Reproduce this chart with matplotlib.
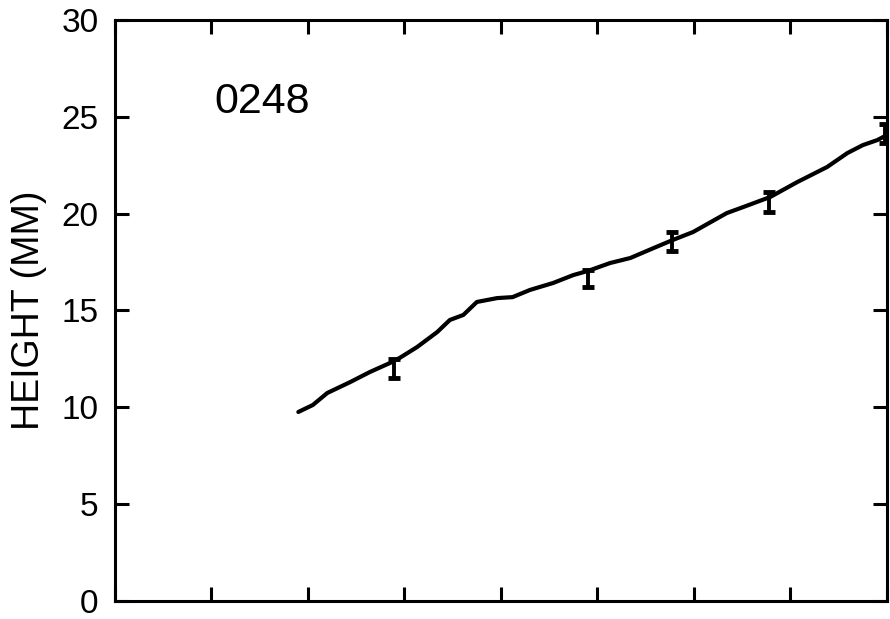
import matplotlib
matplotlib.use("Agg")
import matplotlib.pyplot as plt

# traced curve (x in tick units, height in mm)
curve_x = [1.90, 2.05, 2.20, 2.44, 2.64, 2.85, 2.95, 3.13, 3.34, 3.47, 3.61, 3.75,
           3.96, 4.12, 4.30, 4.54, 4.75, 4.90, 5.13, 5.34, 5.58, 5.78, 5.99, 6.34,
           6.51, 6.79, 7.07, 7.38, 7.59, 7.75, 7.90, 8.00]
curve_y = [9.76, 10.12, 10.74, 11.31, 11.82, 12.29, 12.55, 13.11, 13.89, 14.51, 14.77, 15.44,
           15.64, 15.69, 16.06, 16.42, 16.83, 17.04, 17.45, 17.71, 18.22, 18.64, 19.05, 20.03,
           20.34, 20.86, 21.63, 22.41, 23.13, 23.54, 23.80, 24.06]

# error bars
bar_x = [2.89, 4.90, 5.77, 6.78, 7.98]
bar_lo = [11.5, 16.2, 18.05, 20.1, 23.65]
bar_hi = [12.5, 17.1, 19.05, 21.1, 24.65]

yticks = [0, 5, 10, 15, 20, 25, 30]
xticks = [0, 1, 2, 3, 4, 5, 6, 7, 8]
label = "0248"

plt.rcParams['font.family'] = ['Liberation Sans', 'DejaVu Sans']

fig = plt.figure(figsize=(8.9, 6.19), dpi=100)
ax = fig.add_axes([0.1292, 0.0291, 0.8674, 0.9386])

ax.plot(curve_x, curve_y, color="black", lw=3.0, solid_capstyle="round")

mid = [(a + b) / 2 for a, b in zip(bar_lo, bar_hi)]
half = [(b - a) / 2 for a, b in zip(bar_lo, bar_hi)]
ax.errorbar(bar_x, mid, yerr=half, fmt="none", ecolor="black",
            elinewidth=2.8, capsize=4.5, capthick=3.5)

ax.text(1.53, 25.76, label, fontsize=31, ha="center", va="center")

ax.set_xlim(0, 8)
ax.set_ylim(0, 30)
ax.set_xticks(xticks)
ax.set_yticks(yticks)
ax.set_xticklabels([])
ax.set_ylabel("HEIGHT (MM)", fontsize=27, labelpad=10)

for s in ax.spines.values():
    s.set_linewidth(2.2)
ax.tick_params(axis="both", direction="in", width=2.2, length=10,
               top=True, right=True, labelsize=24)
ax.tick_params(axis="y", pad=12)

fig.savefig("out.png", dpi=100)
